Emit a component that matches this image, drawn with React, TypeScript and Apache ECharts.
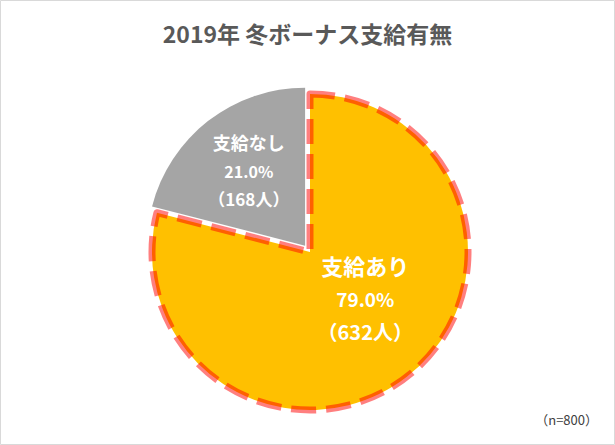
import React, { useEffect, useRef } from "react";
import * as echarts from "echarts";

const titleText = "2019年 冬ボーナス支給有無";
const categories = ["支給あり", "支給なし"];
const counts = [632, 168];
const percents = ["79.0%", "21.0%"];
const colors = ["#FFC000", "#A5A5A5"];
const noteText = "（n=800）";

const FONT = "'Noto Sans CJK JP', 'Noto Sans', sans-serif";

export default function App() {
  const ref = useRef<HTMLDivElement>(null);
  useEffect(() => {
    if (!ref.current) return;
    const chart = echarts.init(ref.current, undefined, { renderer: "svg" });
    const labelShift = [
      [5, -19],
      [-6, -11],
    ];
    const labelCfg = [
      {
        rich: {
          n: { fontSize: 22, fontWeight: "bold", color: "#fff", fontFamily: FONT, lineHeight: 34 },
          p: { fontSize: 19, fontWeight: "bold", color: "#fff", fontFamily: FONT, lineHeight: 34 },
          c: { fontSize: 20, fontWeight: "bold", color: "#fff", fontFamily: FONT, lineHeight: 32 },
        },
      },
      {
        rich: {
          n: { fontSize: 18, fontWeight: "bold", color: "#fff", fontFamily: FONT, lineHeight: 30 },
          p: { fontSize: 16, fontWeight: "bold", color: "#fff", fontFamily: FONT, lineHeight: 28 },
          c: { fontSize: 17, fontWeight: "bold", color: "#fff", fontFamily: FONT, lineHeight: 28 },
        },
      },
    ];
    const data = categories.map((name, i) => ({
      name,
      value: counts[i],
      selected: i === 1,
      itemStyle:
        i === 0
          ? {
              color: colors[i],
              borderColor: "rgba(255,0,0,0.5)",
              borderWidth: 7,
              borderType: [25, 10],
            }
          : { color: colors[i], borderWidth: 0 },
      label: {
        show: true,
        position: "inside",
        formatter: `{n|${name}}\n{p|${percents[i]}}\n{c|（${counts[i]}人）}`,
        ...labelCfg[i],
      },
    }));
    chart.setOption({
      animation: false,
      title: {
        text: titleText,
        left: "center",
        top: 16,
        textStyle: { fontSize: 23, fontWeight: "bold", color: "#595959", fontFamily: FONT },
      },
      graphic: [
        {
          type: "rect",
          shape: { x: 0.5, y: 0.5, width: 614, height: 444 },
          style: { fill: "none", stroke: "#D9D9D9", lineWidth: 1 },
          silent: true,
          z: -10,
        },
        {
          type: "text",
          right: 17,
          top: 413,
          style: { text: noteText, fontSize: 13, fill: "#404040", fontFamily: FONT },
        },
      ],
      series: [
        {
          type: "pie",
          center: [310, 252],
          radius: [0, 158],
          startAngle: 90,
          clockwise: true,
          selectedMode: "single",
          selectedOffset: 8,
          emphasis: { disabled: true },
          labelLine: { show: false },
          labelLayout: (p: any) => ({ dx: labelShift[p.dataIndex][0], dy: labelShift[p.dataIndex][1] }),
          data,
        },
      ],
    });
    return () => chart.dispose();
  }, []);
  return (
    <div
      ref={ref}
      style={{ position: "absolute", left: 0, top: 0, width: 615, height: 445, background: "#fff" }}
    />
  );
}
